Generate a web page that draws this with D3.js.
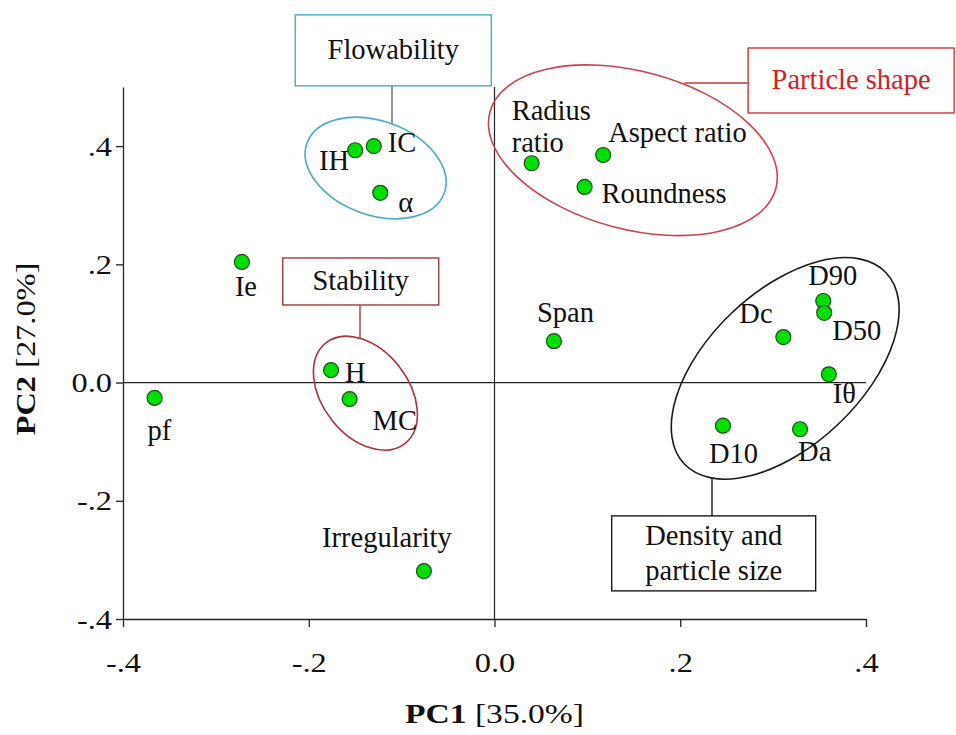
<!DOCTYPE html>
<html>
<head>
<meta charset="utf-8">
<script src="https://cdn.jsdelivr.net/npm/d3@7"></script>
<style>
  html, body { margin: 0; padding: 0; background: #fff; }
  svg text { font-family: "Liberation Serif", "Times New Roman", serif; }
</style>
</head>
<body>
<svg id="chart" width="956" height="735"></svg>
<script>
// ---------- DATA ----------
const variables = ["IH","IC","α","Ie","pf","H","MC","Irregularity","Span","Radius ratio","Aspect ratio","Roundness","D90","D50","Dc","Iθ","D10","Da"];
const pc1 = [-0.150,-0.130,-0.123,-0.272,-0.366,-0.176,-0.156,-0.076,0.064,0.040,0.117,0.097,0.354,0.355,0.311,0.360,0.246,0.329];
const pc2 = [0.393,0.400,0.321,0.204,-0.026,0.021,-0.028,-0.319,0.070,0.371,0.385,0.331,0.138,0.118,0.077,0.014,-0.073,-0.079];

const xTickValues = [-0.4,-0.2,0.0,0.2,0.4];
const xTickLabels = ["-.4","-.2","0.0",".2",".4"];
const yTickValues = [-0.4,-0.2,0.0,0.2,0.4];
const yTickLabels = ["-.4","-.2","0.0",".2",".4"];

const xTitleBold = "PC1", xTitleRest = " [35.0%]";
const yTitleBold = "PC2", yTitleRest = " [27.0%]";

const groupNames = ["Flowability","Particle shape","Stability","Density and|particle size"];
// group ellipse centres in PC units
const groupCx = [-0.128, 0.149, -0.139, 0.313];
const groupCy = [0.363, 0.393, -0.018, 0.024];
// group label box centres in PC units
const boxCx = [-0.109, 0.384, -0.144, 0.236];
const boxCy = [0.562, 0.511, 0.171, -0.289];

// ---------- LAYOUT / STYLE ----------
const W = 956, H = 735;
const plot = { left: 123, right: 866, top: 87, bottom: 619 };
const stretch = 1.2; // horizontal stretch of axis text

// label placement relative to point (px): dx, dy, anchor
const labelLayout = {
  "IH": [-6, 20, "end"], "IC": [14, 6, "start"], "α": [18, 19, "start"],
  "Ie": [-7, 34, "start"], "pf": [-7, 42, "start"], "H": [14, 12, "start"],
  "MC": [23, 31, "start"], "Irregularity": [-37, -24, "middle"],
  "Span": [-17, -19, "start"], "Radius ratio": [-20, -43, "start"],
  "Aspect ratio": [5, -13, "start"], "Roundness": [17, 16, "start"],
  "D90": [-15, -16, "start"], "D50": [8, 27, "start"], "Dc": [-44, -14, "start"],
  "Iθ": [4, 29, "start"], "D10": [-14, 37, "start"], "Da": [-2, 32, "start"]
};

const groupStyle = [
  { rx: 73, ry: 47, rot: 20, stroke: "#4bacc6", box: "#4bacc6", text: "#111", line: "#666", bw: 196, bh: 71,
    conn: { type: "v", x: 392, from: "boxBottom", to: "ellTop" } },
  { rx: 148, ry: 79, rot: 15, stroke: "#c9454d", box: "#c9383f", text: "#d0202a", line: "#c9383f", bw: 206, bh: 65,
    conn: { type: "h", y: 83 } },
  { rx: 64, ry: 43, rot: 52, stroke: "#a8343c", box: "#a33b3b", text: "#111", line: "#a33b3b", bw: 156, bh: 47,
    conn: { type: "v", x: 360, from: "boxBottom", to: "ellTop" } },
  { rx: 139, ry: 77, rot: -43.5, stroke: "#1a1a1a", box: "#1a1a1a", text: "#111", line: "#1a1a1a", bw: 204, bh: 75,
    conn: { type: "v", x: 712, from: "boxTop", to: "ellBottom" } }
];

const svg = d3.select("#chart");
svg.append("rect").attr("width", W).attr("height", H).attr("fill", "#fff");

const x = d3.scaleLinear().domain([-0.4, 0.4]).range([plot.left, plot.right]);
const y = d3.scaleLinear().domain([-0.4, 0.5]).range([plot.bottom, plot.top]);

// ---------- AXES ----------
const xAxis = d3.axisBottom(x).tickValues(xTickValues)
  .tickFormat((d, i) => xTickLabels[i]).tickSize(8).tickSizeOuter(0).tickPadding(10);
const yAxis = d3.axisLeft(y).tickValues(yTickValues)
  .tickFormat((d, i) => yTickLabels[i]).tickSize(7).tickSizeOuter(0).tickPadding(4);

const gx = svg.append("g").attr("transform", `translate(0,${plot.bottom})`).call(xAxis);
const gy = svg.append("g").attr("transform", `translate(${plot.left},0)`).call(yAxis);
[gx, gy].forEach(g => {
  g.select(".domain").attr("stroke", "#222").attr("stroke-width", 1.3);
  g.selectAll(".tick line").attr("stroke", "#222").attr("stroke-width", 1.3);
  g.selectAll(".tick text").attr("fill", "#111").style("font-size", "27px")
    .style("font-family", '"Liberation Serif", "Times New Roman", serif')
    .attr("transform", `scale(${stretch},1)`);
});
gx.selectAll(".tick text").attr("y", 18).attr("dy", "35px");
gy.selectAll(".tick text").attr("x", -11 / stretch).attr("dy", "0.34em");

// zero lines
svg.append("line").attr("x1", x(-0.4)).attr("x2", x(0.4)).attr("y1", y(0)).attr("y2", y(0))
  .attr("stroke", "#222").attr("stroke-width", 1.2);
svg.append("line").attr("x1", x(0)).attr("x2", x(0)).attr("y1", y(0.5)).attr("y2", y(-0.4))
  .attr("stroke", "#222").attr("stroke-width", 1.2);

// axis titles
const xt = svg.append("text").attr("transform", `translate(${x(0)},723) scale(${stretch},1)`)
  .attr("text-anchor", "middle").style("font-size", "28px").attr("fill", "#111");
xt.append("tspan").attr("font-weight", "bold").text(xTitleBold);
xt.append("tspan").text(xTitleRest);

const yt = svg.append("text")
  .attr("transform", `translate(35,${(plot.top + plot.bottom) / 2 - 4}) rotate(-90) scale(${stretch},1)`)
  .attr("text-anchor", "middle").style("font-size", "27px").attr("fill", "#111");
yt.append("tspan").attr("font-weight", "bold").text(yTitleBold);
yt.append("tspan").text(yTitleRest);

// ---------- GROUP ANNOTATIONS ----------
function ellipsePoints(cx, cy, rx, ry, rotDeg) {
  const r = rotDeg * Math.PI / 180, pts = [];
  for (let i = 0; i < 1440; i++) {
    const t = i / 1440 * 2 * Math.PI;
    const ex = rx * Math.cos(t), ey = ry * Math.sin(t);
    pts.push([cx + ex * Math.cos(r) - ey * Math.sin(r), cy + ex * Math.sin(r) + ey * Math.cos(r)]);
  }
  return pts;
}

groupNames.forEach((name, i) => {
  const s = groupStyle[i];
  const ecx = x(groupCx[i]), ecy = y(groupCy[i]);
  const bcx = x(boxCx[i]), bcy = y(boxCy[i]);
  const pts = ellipsePoints(ecx, ecy, s.rx, s.ry, s.rot);

  // connector
  let x1, y1, x2, y2;
  if (s.conn.type === "v") {
    const cand = pts.filter(p => Math.abs(p[0] - s.conn.x) < 1.5);
    const ellY = s.conn.to === "ellTop" ? d3.min(cand, p => p[1]) : d3.max(cand, p => p[1]);
    const boxY = s.conn.from === "boxBottom" ? bcy + s.bh / 2 : bcy - s.bh / 2;
    x1 = x2 = s.conn.x; y1 = boxY; y2 = ellY;
  } else {
    const cand = pts.filter(p => Math.abs(p[1] - s.conn.y) < 1.5);
    const ellX = d3.max(cand, p => p[0]);
    x1 = bcx - s.bw / 2; x2 = ellX; y1 = y2 = s.conn.y;
  }
  svg.append("line").attr("x1", x1).attr("y1", y1).attr("x2", x2).attr("y2", y2)
    .attr("stroke", s.line).attr("stroke-width", 1.4);

  svg.append("ellipse").attr("cx", ecx).attr("cy", ecy).attr("rx", s.rx).attr("ry", s.ry)
    .attr("transform", `rotate(${s.rot},${ecx},${ecy})`)
    .attr("fill", "none").attr("stroke", s.stroke).attr("stroke-width", 1.6);

  svg.append("rect").attr("x", bcx - s.bw / 2).attr("y", bcy - s.bh / 2)
    .attr("width", s.bw).attr("height", s.bh)
    .attr("fill", "#fff").attr("stroke", s.box).attr("stroke-width", 1.4);

  const lines = name.split("|");
  const lh = 35;
  const t = svg.append("text").attr("text-anchor", "middle").style("font-size", "28.5px").attr("fill", s.text);
  lines.forEach((ln, k) => {
    t.append("tspan").attr("x", bcx)
      .attr("y", bcy + 9 + (k - (lines.length - 1) / 2) * lh).text(ln);
  });
});

// ---------- POINTS ----------
const data = variables.map((v, i) => ({ name: v, x: pc1[i], y: pc2[i] }));

svg.append("g").selectAll("circle").data(data).join("circle")
  .attr("cx", d => x(d.x)).attr("cy", d => y(d.y)).attr("r", 7.5)
  .attr("fill", "#00e000").attr("stroke", "#1d4d1d").attr("stroke-width", 1.2);

const lbl = svg.append("g").selectAll("text").data(data).join("text")
  .attr("text-anchor", d => labelLayout[d.name][2])
  .style("font-size", "28.5px").attr("fill", "#111");
lbl.each(function (d) {
  const [dx, dy] = labelLayout[d.name];
  const px = x(d.x), py = y(d.y);
  const el = d3.select(this);
  if (d.name === "Radius ratio") {
    el.append("tspan").attr("x", px + dx).attr("y", py + dy).text("Radius");
    el.append("tspan").attr("x", px + dx).attr("y", py + dy + 32).text("ratio");
  } else {
    el.attr("x", px + dx).attr("y", py + dy).text(d.name);
  }
});
</script>
</body>
</html>
